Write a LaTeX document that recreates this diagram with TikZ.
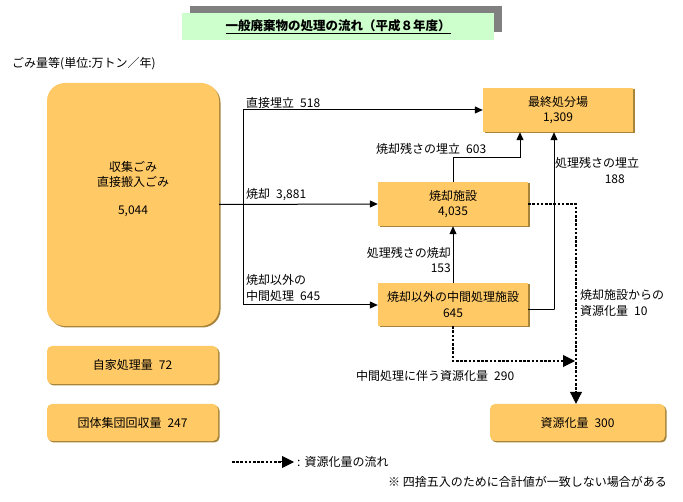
\documentclass[tikz,border=0pt]{standalone}
\usepackage{fontspec}
\setmainfont{Noto Sans CJK JP}
\usetikzlibrary{arrows.meta,calc,shadows}
\definecolor{boxfill}{HTML}{FFC966}
\definecolor{boxshade}{HTML}{A8843A}
\definecolor{titlegreen}{HTML}{CCFFCC}
\definecolor{titlegray}{HTML}{808080}
\newcommand{\gp}{\hspace{6pt}}
\begin{document}
\begin{tikzpicture}[x=1pt,y=-1pt,
  every node/.style={font=\fontsize{12}{15.5}\selectfont, inner sep=0pt},
  box/.style={fill=boxfill, draw=none, drop shadow={shadow xshift=1.5pt, shadow yshift=-1.5pt, fill=boxshade, opacity=1}},
  lab/.style={anchor=west, align=left},
  arr/.style={line width=1pt, -{Triangle[length=8pt,width=7pt]}},
  ln/.style={line width=1pt},
  dotln/.style={line width=2.6pt, dash pattern=on 2.6pt off 1.6pt, shorten >=11pt},
  bighead/.style={line width=1pt, -{Triangle[length=12pt,width=12pt]}}]
\useasboundingbox (0,0) rectangle (683,502);
% title
\fill[titlegray] (190,6) rectangle (502,32);
\fill[titlegreen] (182,13) rectangle (494,40);
\node[font=\fontsize{12.5}{15}\selectfont\bfseries] (title) at (338,27) {\underline{一般廃棄物の処理の流れ（平成８年度）}};
\node[lab] (unit) at (12,64) {ごみ量等(単位:万トン／年)};
% boxes
\node[box, rounded corners=18pt, minimum width=172pt, minimum height=243pt] (big) at (133,204.5) {};
\node[align=center] (bigtxt) at (133,189) {収集ごみ\\直接搬入ごみ\\[12pt]5,044};
\node[box, rounded corners=5pt, minimum width=171pt, minimum height=38pt] (jika) at (132.5,365) {自家処理量\gp 72};
\node[box, rounded corners=5pt, minimum width=171pt, minimum height=37pt] (dantai) at (132.5,422.5) {団体集団回収量\gp 247};
\node[box, minimum width=150pt, minimum height=44pt, align=center] (saishu) at (558,110) {最終処分場\\1,309};
\node[box, minimum width=150pt, minimum height=44pt, align=center] (shokyaku) at (453,204) {焼却施設\\4,035};
\node[box, minimum width=150pt, minimum height=43pt, align=center] (chukan) at (453,304.5) {焼却以外の中間処理施設\\645};
\node[box, rounded corners=5pt, minimum width=175pt, minimum height=37pt] (shigen) at (577.5,422.5) {資源化量\gp 300};
% connectors
\coordinate (jA) at (243,110);
\coordinate (jB) at (243,305);
\draw[ln] (jA) -- (jB);
\draw[arr] (jA) -- (jA -| saishu.west);
\draw[arr] (big.east) -- (shokyaku.west);
\draw[arr] (jB) -- (jB -| chukan.west);
\draw[arr] (shokyaku.north) -- ++(0,-24) -| ($(saishu.south)+(-38,0)$);
\draw[arr] ($(chukan.east)+(0,5)$) -- ++(26,0) -| ($(saishu.south)+(-4,0)$);
\draw[arr] (chukan.north) -- (shokyaku.south);
\coordinate (sTop) at ($(shigen.north)+(-1.5,0)$);
\draw[dotln] (shokyaku.east) -| (sTop);
\draw[bighead] ($(sTop)+(0,-13)$) -- (sTop);
\coordinate (mEnd) at (575,361);
\draw[dotln] (chukan.south) |- (mEnd);
\draw[bighead] ($(mEnd)+(-13,0)$) -- (mEnd);
% labels
\node[lab] (l1) at (246,103) {直接埋立\gp 518};
\node[lab] (l2) at (246,195) {焼却\gp 3,881};
\node[lab] (l3) at (246,288) {焼却以外の\\中間処理\gp 645};
\node[lab] (l4) at (376,149) {焼却残さの埋立\gp 603};
\node[lab] (l5) at (555,163) {処理残さの埋立};
\node[anchor=east] (l5b) at (625,179) {188};
\node[anchor=east, align=right] (l6) at (451,260) {処理残さの焼却\\153};
\node[lab] (l7) at (580,303) {焼却施設からの\\資源化量\gp 10};
\node[lab] (l8) at (356,376) {中間処理に伴う資源化量\gp 290};
% legend
\coordinate (lg1) at (232,462);
\coordinate (lg2) at (294,462);
\draw[dotln] (lg1) -- (lg2);
\draw[bighead] ($(lg2)+(-13,0)$) -- (lg2);
\node[lab] (lgt) at (297,462) {:\hspace{4pt}資源化量の流れ};
\node[lab] (note) at (388,482) {※ 四捨五入のために合計値が一致しない場合がある};
\end{tikzpicture}
\end{document}
